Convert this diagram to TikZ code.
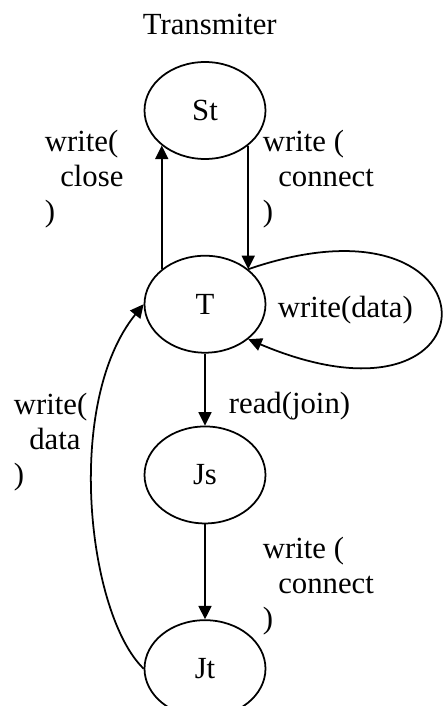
\documentclass[tikz,border=0pt]{standalone}
\usepackage{fontspec}
\setmainfont{Liberation Serif}
\usetikzlibrary{positioning,arrows.meta,shapes.geometric}

\begin{document}
\begin{tikzpicture}[x=0.02cm,y=-0.02cm,
    node distance=1.9cm,
    line width=1pt,
    font=\fontsize{17.5}{19.9}\selectfont,
    stnode/.style={draw,ellipse,minimum width=2.42cm,minimum height=1.94cm,inner sep=0pt},
    lbl/.style={align=left,inner sep=0pt,anchor=north west},
    trans/.style={-{Triangle[length=0.27cm,width=0.26cm]}}]
  \useasboundingbox (0,0) rectangle (444,706);

  \node[anchor=base west,inner sep=0pt] (title) at (142,35) {Transmiter};

  \node[stnode] (St) at (205,110.5) {St};
  \node[stnode,below=of St] (T) {T};
  \node[stnode,below=1.44cm of T] (Js) {Js};
  \node[stnode,below=of Js] (Jt) {Jt};

  % transition labels
  \node[lbl] (lclose) at (44,129) {write(\\\hspace*{0.5em}close\\)};
  \node[lbl] (lconnect) at (262,129) {write (\\\hspace*{0.5em}connect\\)};
  \node[anchor=base west,inner sep=0pt] (lloop) at (277,317) {write(data)};
  \node[anchor=base west,inner sep=0pt] (ljoin) at (228,413) {read(join)};
  \node[lbl] (lback) at (13,392) {write(\\\hspace*{0.5em}data\\)};
  \node[lbl] (lconnect2) at (262,536) {write (\\\hspace*{0.5em}connect\\)};

  \draw[trans] (T.141) -- (St.219);
  \draw[trans] (St.-39) -- (T.39);
  \draw[trans] (T.39) .. controls +(256,-88) and +(256,108) .. (T.-39);
  \draw[trans] (T) -- (Js);
  \draw[trans] (Js) -- (Jt);
  \draw[trans] (Jt.west) .. controls +(-56,-54) and +(-80,99) .. (T.west);
\end{tikzpicture}
\end{document}
